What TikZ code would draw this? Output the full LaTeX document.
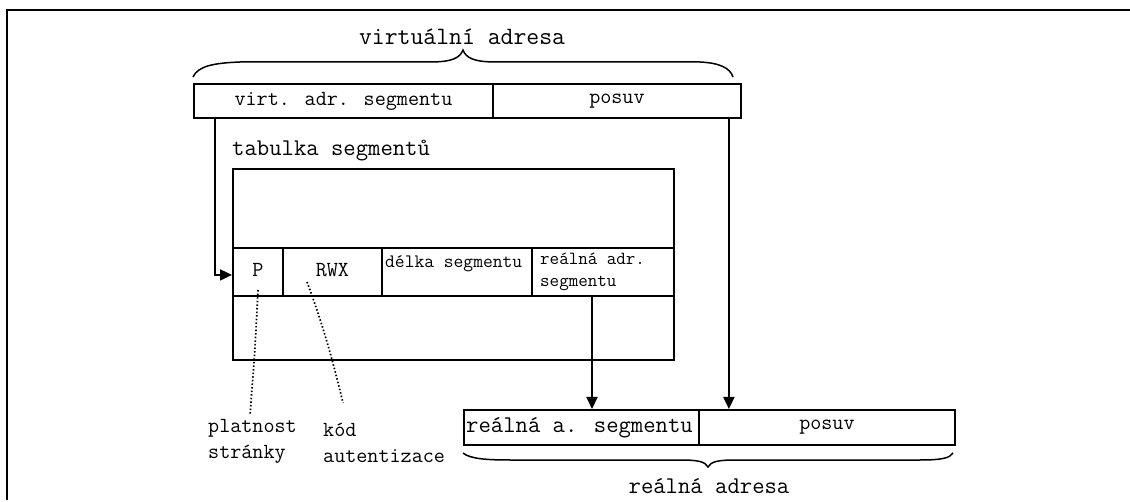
\documentclass[tikz,border=0pt]{standalone}
\usepackage{fontspec}
\usetikzlibrary{arrows.meta}

\newcommand{\fz}[1]{\ttfamily\fontsize{#1}{1.2\dimexpr#1pt\relax}\selectfont}

\tikzset{
  cell/.style={draw, line width=1.9pt, anchor=north west, inner sep=0pt,
    minimum height=#1},
  cell/.default=34pt,
  arr/.style={line width=1.9pt, -{Triangle[length=12pt,width=11pt]}},
  brace/.style={line width=1.5pt},
  hint/.style={line width=1.7pt, dash pattern=on 1.5pt off 2.1pt},
  lbl/.style={inner sep=0pt},
}

\begin{document}
\begin{tikzpicture}[x=1pt, y=-1pt]
\useasboundingbox (0,0) rectangle (1130,502);

% page frame
\draw[line width=1.5pt] (7,500) -- (7,10) -- (1130,10);

% virtual address
\node[lbl, font=\fz{25}] (vtitle) at (462,37) {virtuální adresa};
\draw[brace] (193,77) .. controls (198,66) and (214,63) .. (240,62) -- (430,62)
  .. controls (452,62) and (460,58) .. (463,50)
  .. controls (466,58) and (474,62) .. (496,62) -- (700,62)
  .. controls (720,63) and (730,68) .. (733,77);
\node[cell, minimum width=299pt, font=\fz{21.5}] (vseg) at (193,83) {virt. adr. segmentu};
\node[cell, minimum width=248pt, font=\fz{21.5}] (vpos) at (492,83) {posuv};

% segment table
\node[lbl, anchor=west, font=\fz{24}] (ttitle) at (232,151) {tabulka segmentů};
\node[cell, minimum width=441pt, minimum height=191pt] (table) at (232,168) {};
\node[cell=48pt, minimum width=50pt] (cP) at (232,247) {};
\node[cell=48pt, minimum width=99pt] (cRWX) at (282,247) {};
\node[cell=48pt, minimum width=150pt] (cLen) at (381,247) {};
\node[cell=48pt, minimum width=142pt] (cRA) at (531,247) {};
\node[lbl, font=\fz{21.5}] (tP) at ([yshift=2pt]cP.center) {P};
\node[lbl, font=\fz{21.5}] (tRWX) at ([yshift=2pt]cRWX.center) {RWX};
\node[lbl, anchor=west, font=\fz{19}] (tLen) at ([shift={(4,17)}]cLen.north west) {délka segmentu};
\node[lbl, anchor=west, align=left, font=\fz{18.5}] (tRA) at ([shift={(9,25)}]cRA.north west)
  {reálná adr.\\segmentu};

% real address
\node[cell=35pt, minimum width=235pt] (rseg) at (463,409) {};
\node[lbl, anchor=west, font=\fz{24}] (tRseg) at ([xshift=3pt]rseg.west) {reálná a. segmentu};
\node[cell=35pt, minimum width=256pt, font=\fz{21.5}] (rpos) at (698,409) {posuv};
\draw[brace] (463,453) .. controls (470,459) and (488,460) .. (510,460) -- (680,460)
  .. controls (700,460) and (705,462) .. (708,467)
  .. controls (711,462) and (716,460) .. (736,460) -- (920,460)
  .. controls (942,460) and (950,458) .. (953,453);
\node[lbl, font=\fz{24}] (rtitle) at (709,486) {reálná adresa};

% address flow
\draw[arr] ([xshift=22pt]vseg.south west) |- ([yshift=-3pt]cP.west);
\draw[arr] ([xshift=61pt]cRA.south west) -- ([xshift=61pt]cRA.south west |- rseg.north);
\draw[arr] ([xshift=-13pt]vpos.south east) -- ([xshift=-13pt]vpos.south east |- rpos.north);

% annotations
\node[lbl, anchor=north west, align=left, font=\fz{21.5}] (nP) at (208,419) {platnost\\stránky};
\node[lbl, anchor=north west, align=left, font=\fz{21.5}] (nRWX) at (323,423) {kód\\autentizace};
\coordinate (pFrom) at (258,290);
\coordinate (pTo) at (250,415);
\coordinate (rFrom) at (307,282);
\coordinate (rTo) at (343,403);
\draw[hint] (pFrom) .. controls (255,350) .. (pTo);
\draw[hint] (rFrom) .. controls (325,330) and (335,370) .. (rTo);
\end{tikzpicture}
\end{document}
